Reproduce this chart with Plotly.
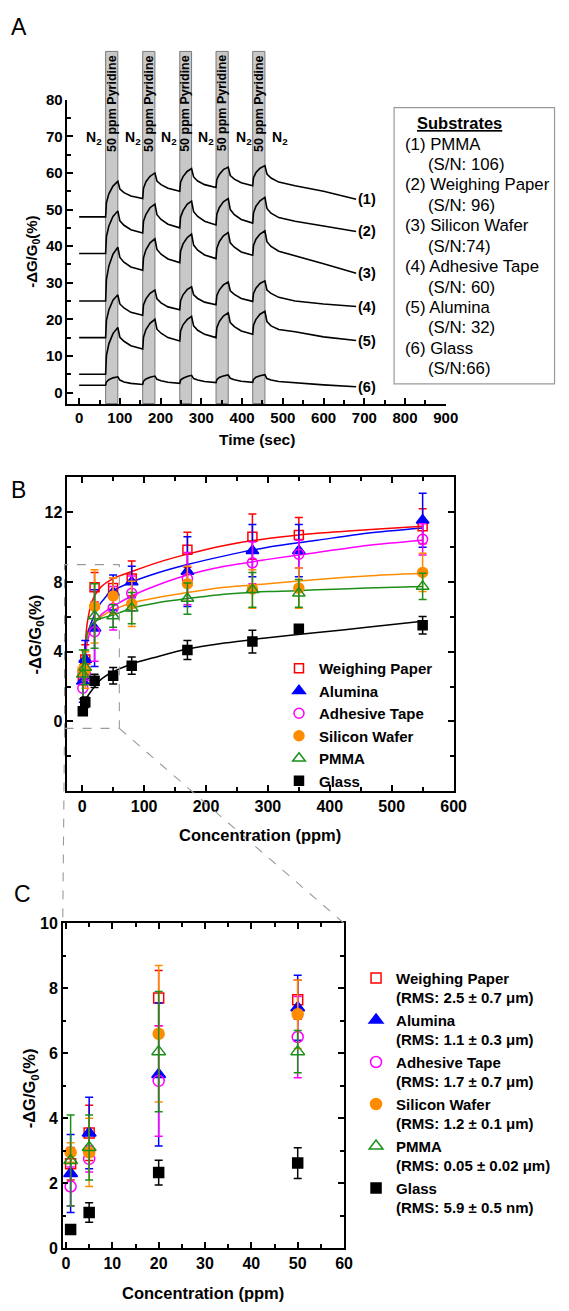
import plotly.graph_objects as go

W, H = 569, 1311
FONT = "Liberation Sans, Arial, sans-serif"

# ---------------- Panel A data ----------------
time_s = [0, 65,
          67, 73, 83, 95, 100, 110, 127, 156,
          158, 164, 174, 186, 191, 201, 218, 247,
          249, 255, 265, 276, 281, 291, 308, 336,
          338, 344, 354, 366, 371, 381, 398, 426,
          428, 434, 444, 456, 461, 471, 490, 530, 600, 680]
resp_pmma = [48.0, 48.0,
             51.9, 54.3, 56.4, 57.7, 55.6, 54.6, 53.7, 53.0,
             55.8, 57.6, 59.1, 60.0, 57.8, 56.8, 55.8, 55.0,
             57.5, 59.0, 60.4, 61.2, 58.9, 57.8, 56.8, 56.0,
             58.2, 59.6, 60.9, 61.6, 59.3, 58.3, 57.3, 56.5,
             58.7, 60.1, 61.3, 62.0, 59.7, 58.6, 57.5, 56.5, 55.0, 52.8]
resp_weighing_paper = [38.0, 38.0,
                       42.6, 45.5, 48.1, 49.6, 46.9, 45.7, 44.5, 43.6,
                       46.8, 48.7, 50.5, 51.5, 48.6, 47.3, 46.0, 45.0,
                       47.9, 49.7, 51.4, 52.3, 49.4, 48.1, 46.8, 45.8,
                       48.7, 50.5, 52.1, 53.0, 50.0, 48.6, 47.3, 46.3,
                       49.1, 50.9, 52.4, 53.3, 50.3, 49.0, 47.8, 46.8, 45.5, 44.0]
resp_silicon_wafer = [25.0, 25.0,
                      30.9, 34.6, 37.8, 39.7, 36.9, 35.6, 34.3, 33.4,
                      36.8, 39.0, 40.9, 42.0, 39.1, 37.8, 36.5, 35.5,
                      38.6, 40.6, 42.3, 43.3, 40.3, 38.9, 37.6, 36.6,
                      39.4, 41.2, 42.8, 43.7, 40.9, 39.7, 38.4, 37.5,
                      40.2, 41.9, 43.3, 44.2, 41.2, 39.9, 38.6, 37.4, 35.2, 32.6]
resp_adhesive_tape = [15.0, 15.0,
                      19.7, 22.6, 25.2, 26.7, 24.2, 23.1, 21.9, 21.1,
                      23.9, 25.6, 27.1, 28.0, 25.6, 24.5, 23.4, 22.6,
                      25.1, 26.7, 28.1, 28.9, 26.7, 25.7, 24.7, 24.0,
                      26.5, 28.0, 29.4, 30.2, 27.8, 26.8, 25.7, 24.9,
                      27.1, 28.5, 29.8, 30.5, 28.0, 27.1, 26.0, 25.0, 24.2, 23.5]
resp_alumina = [5.0, 5.0,
                10.1, 13.3, 16.1, 17.8, 15.1, 14.0, 12.8, 11.9,
                15.1, 17.2, 18.9, 20.0, 17.3, 16.2, 15.0, 14.1,
                16.8, 18.5, 19.9, 20.8, 18.2, 17.0, 15.9, 15.0,
                17.7, 19.4, 20.9, 21.8, 19.1, 18.0, 16.8, 15.9,
                18.4, 20.0, 21.4, 22.2, 19.4, 18.2, 17.2, 16.6, 15.2, 14.2]
resp_glass = [2.0, 2.0,
              2.9, 3.5, 4.0, 4.3, 3.4, 2.9, 2.5, 2.2,
              3.1, 3.7, 4.2, 4.5, 3.6, 3.2, 2.8, 2.5,
              3.4, 3.9, 4.4, 4.7, 3.8, 3.4, 3.0, 2.7,
              3.5, 4.1, 4.5, 4.8, 3.9, 3.5, 3.1, 2.8,
              3.6, 4.2, 4.6, 4.9, 3.8, 3.4, 3.0, 2.6, 2.1, 1.6]
curves_A = [resp_pmma, resp_weighing_paper, resp_silicon_wafer,
            resp_adhesive_tape, resp_alumina, resp_glass]
curve_tags = ["(1)", "(2)", "(3)", "(4)", "(5)", "(6)"]
curve_tag_y = [52.8, 44.0, 32.6, 23.5, 14.1, 1.6]
pyridine_on = [65, 156, 247, 336, 426]
pyridine_off = [95, 186, 276, 366, 456]
n2_x = [36, 132, 220, 312, 404, 492]
substrate_names = ["(1) PMMA", "(2) Weighing Paper", "(3) Silicon Wafer",
                   "(4) Adhesive Tape", "(5) Alumina", "(6) Glass"]
substrate_sn = ["(S/N: 106)", "(S/N: 96)", "(S/N:74)", "(S/N: 60)", "(S/N: 32)", "(S/N:66)"]

# ---------------- Panel B / C data ----------------
conc_ppm = [1, 5, 20, 50, 80, 170, 275, 350, 550]
series_names = ["Weighing Paper", "Alumina", "Adhesive Tape", "Silicon Wafer", "PMMA", "Glass"]
series_rms = ["(RMS: 2.5 ± 0.7 μm)", "(RMS: 1.1 ± 0.3 μm)", "(RMS: 1.7 ± 0.7 μm)",
              "(RMS: 1.2 ± 0.1 μm)", "(RMS: 0.05 ± 0.02 μm)", "(RMS: 5.9 ± 0.5 nm)"]
mean_weighing_paper = [2.6, 3.55, 7.7, 7.65, 8.2, 9.85, 10.6, 10.7, 11.2]
err_weighing_paper = [0.5, 0.85, 0.85, 0.6, 1.0, 1.0, 1.3, 1.0, 1.0]
mean_alumina = [2.3, 3.55, 5.35, 7.4, 8.0, 8.6, 9.8, 9.8, 11.55]
err_alumina = [1.2, 1.1, 2.2, 1.0, 0.9, 2.0, 1.5, 1.5, 1.55]
mean_adhesive_tape = [1.9, 2.75, 5.15, 6.5, 7.35, 8.2, 9.1, 9.6, 10.45]
err_adhesive_tape = [0.6, 0.4, 1.7, 1.25, 1.0, 1.5, 1.2, 0.8, 0.9]
mean_silicon_wafer = [2.95, 2.95, 6.6, 7.2, 6.75, 7.9, 7.6, 7.65, 8.55]
err_silicon_wafer = [0.3, 1.05, 2.1, 1.05, 1.3, 1.0, 1.1, 1.15, 1.1]
mean_pmma = [2.7, 3.1, 6.05, 6.05, 6.5, 7.05, 7.55, 7.35, 7.75]
err_pmma = [1.4, 1.0, 1.85, 0.65, 0.9, 0.9, 1.0, 0.8, 0.75]
mean_glass = [0.58, 1.1, 2.33, 2.62, 3.2, 4.1, 4.58, 5.32, 5.52]
err_glass = [0.05, 0.3, 0.38, 0.47, 0.5, 0.55, 0.65, 0.2, 0.5]
means = [mean_weighing_paper, mean_alumina, mean_adhesive_tape, mean_silicon_wafer, mean_pmma, mean_glass]
errs = [err_weighing_paper, err_alumina, err_adhesive_tape, err_silicon_wafer, err_pmma, err_glass]

fit_x = [1, 3, 8, 16, 30, 50, 80, 120, 170, 230, 300, 380, 460, 550]
fit_weighing_paper = [2.5, 3.4, 5.6, 6.9, 7.7, 8.2, 8.6, 9.1, 9.6, 10.1, 10.5, 10.8, 11.0, 11.2]
fit_alumina = [2.3, 3.1, 4.9, 5.8, 6.8, 7.5, 8.0, 8.5, 9.0, 9.5, 10.0, 10.4, 10.8, 11.1]
fit_adhesive_tape = [2.0, 2.8, 4.5, 5.4, 6.1, 6.6, 7.2, 7.8, 8.4, 8.9, 9.3, 9.7, 10.1, 10.4]
fit_silicon_wafer = [2.4, 3.4, 4.9, 5.6, 6.0, 6.4, 6.8, 7.1, 7.4, 7.7, 7.9, 8.15, 8.35, 8.5]
fit_pmma = [2.5, 3.5, 5.0, 5.6, 5.9, 6.1, 6.5, 6.8, 7.05, 7.3, 7.45, 7.55, 7.65, 7.75]
fit_glass = [0.55, 0.9, 1.4, 1.8, 2.4, 2.85, 3.3, 3.7, 4.15, 4.5, 4.8, 5.1, 5.4, 5.75]
fits = [fit_weighing_paper, fit_alumina, fit_adhesive_tape, fit_silicon_wafer, fit_pmma, fit_glass]

colors = ["#FF0000", "#0000FF", "#FF00FF", "#FF8C00", "#1A8F1A", "#000000"]
symbols = ["square-open", "triangle-up", "circle-open", "circle", "triangle-up-open", "square"]
msizes = [9, 11, 10, 10, 11, 9]

# ---------------- layout geometry (pixels) ----------------
A_X, A_Y = (68, 456), (92, 400)
B_X, B_Y = (68, 464), (475, 793)
C_X, C_Y = (63.3, 351.7), (927, 1256.5)
A_RX, A_RY = [-29, 900], [-3, 80]
B_RX, B_RY = [-24, 600], [-4, 14]
C_RX, C_RY = [-0.7, 60], [0, 10]


def px(x):
    return x / W


def py(y):
    return 1 - y / H


def dom_x(d):
    return [px(d[0]), px(d[1])]


def dom_y(d):
    return [py(d[1]), py(d[0])]


def to_paper_x(v, rng, d):
    return px(d[0] + (v - rng[0]) / (rng[1] - rng[0]) * (d[1] - d[0]))


def to_paper_y(v, rng, d):
    return py(d[1] - (v - rng[0]) / (rng[1] - rng[0]) * (d[1] - d[0]))


def axis(dom, rng, anchor, tickvals, mdtick, mirror, fsize):
    return dict(domain=dom, range=rng, anchor=anchor, showline=True, linecolor="black",
                linewidth=1.5, mirror=mirror, ticks="inside", ticklen=6, tickwidth=1.5,
                tickcolor="black", tickmode="array", tickvals=tickvals,
                minor=dict(ticks="inside", ticklen=4, tickwidth=1.5, dtick=mdtick, tick0=0,
                           tickcolor="black"),
                tickfont=dict(family=FONT, size=fsize, color="black", weight="bold"),
                showgrid=False, zeroline=False, fixedrange=True)


fig = go.Figure()

# Panel A curves
for ys in curves_A:
    fig.add_trace(go.Scatter(x=time_s, y=ys, mode="lines", xaxis="x", yaxis="y",
                             line=dict(color="black", width=1.6), showlegend=False,
                             hoverinfo="skip"))

# Panel B fits then points
for i in range(6):
    fig.add_trace(go.Scatter(x=fit_x, y=fits[i], mode="lines", xaxis="x2", yaxis="y2",
                             line=dict(color=colors[i], width=1.5, shape="spline", smoothing=0.8),
                             showlegend=False, hoverinfo="skip"))
for i in range(6):
    fig.add_trace(go.Scatter(
        x=conc_ppm, y=means[i], mode="markers", xaxis="x2", yaxis="y2", name=series_names[i],
        legend="legend",
        marker=dict(symbol=symbols[i], size=msizes[i], color=colors[i],
                    line=dict(color=colors[i], width=1.5)),
        error_y=dict(type="data", array=errs[i], color=colors[i], thickness=1.5, width=4)))

# Panel C points
for i in range(6):
    fig.add_trace(go.Scatter(
        x=conc_ppm[:4], y=means[i][:4], mode="markers", xaxis="x3", yaxis="y3",
        name=series_names[i] + "<br>" + series_rms[i], legend="legend2",
        marker=dict(symbol=symbols[i], size=msizes[i] + 1, color=colors[i],
                    line=dict(color=colors[i], width=1.5)),
        error_y=dict(type="data", array=errs[i][:4], color=colors[i], thickness=1.5, width=4)))

shapes = []
annotations = []

# Exposure bands
for s, e in zip(pyridine_on, pyridine_off):
    shapes.append(dict(type="rect", xref="x", yref="paper", x0=s, x1=e,
                       y0=py(A_Y[1]), y1=py(43), fillcolor="#C8C8C8",
                       line=dict(color="#7A7A7A", width=1), layer="below"))
    annotations.append(dict(text="50 ppm Pyridine", x=(s + e) / 2, xref="x", y=py(95.5), yref="paper",
                            textangle=-90,
                            font=dict(family=FONT, size=12.5, color="black", weight="bold")))
for xv in n2_x:
    annotations.append(dict(text="N<sub>2</sub>", x=xv, xref="x", y=69.5, yref="y",
                            font=dict(family=FONT, size=14, color="black", weight="bold")))
for tag, yv in zip(curve_tags, curve_tag_y):
    annotations.append(dict(text=tag, x=time_s[-1], xref="x", y=yv, yref="y", xanchor="left",
                            font=dict(family=FONT, size=14.5, color="black", weight="bold")))

# Substrates box
shapes.append(dict(type="rect", xref="paper", yref="paper", x0=px(403), x1=px(567.5),
                   y0=py(380), y1=py(100), line=dict(color="#9A9A9A", width=1.2)))
annotations.append(dict(text="<b><u>Substrates</u></b>", x=px(470), y=py(116),
                        font=dict(family=FONT, size=16.5, color="black")))
row_y = 137
for nm, sn in zip(substrate_names, substrate_sn):
    annotations.append(dict(text=nm, x=px(412), y=py(row_y), xanchor="left",
                            font=dict(family=FONT, size=16.8, color="black")))
    annotations.append(dict(text=sn, x=px(436), y=py(row_y + 20.7), xanchor="left",
                            font=dict(family=FONT, size=16.8, color="black")))
    row_y += 41.4

# Axis titles
ttl = dict(family=FONT, color="black", weight="bold")
annotations += [
    dict(text="-ΔG/G<sub>0</sub>(%)", x=px(32), y=py(246), textangle=-90, font=dict(size=15, **ttl)),
    dict(text="Time (sec)", x=px(262), y=py(437), font=dict(size=15.5, **ttl)),
    dict(text="-ΔG/G<sub>0</sub>(%)", x=px(36), y=py(634), textangle=-90, font=dict(size=16.5, **ttl)),
    dict(text="Concentration (ppm)", x=px(266), y=py(838), font=dict(size=16.5, **ttl)),
    dict(text="-ΔG/G<sub>0</sub>(%)", x=px(30), y=py(1094), textangle=-90, font=dict(size=16.5, **ttl)),
    dict(text="Concentration (ppm)", x=px(207), y=py(1302), font=dict(size=16.5, **ttl)),
]
for letter, (lx, ly) in zip(["A", "B", "C"], [(18, 18), (18, 488), (22, 897)]):
    annotations.append(dict(text=letter, x=px(lx), y=py(ly),
                            font=dict(family=FONT, size=23, color="black")))
for a in annotations:
    a.setdefault("xref", "paper")
    a.setdefault("yref", "paper")
    a.setdefault("xanchor", "center")
    a.setdefault("yanchor", "middle")
    a["showarrow"] = False

# Zoom-box decoration (B region shown in C)
zb_left = to_paper_x(-28.5, B_RX, B_X)
zb_right = to_paper_x(60, B_RX, B_X)
zb_top = to_paper_y(9.0, B_RY, B_Y)
zb_bot = to_paper_y(-0.4, B_RY, B_Y)
dash = dict(color="#9A9A9A", width=1.1, dash="dash")
shapes += [
    dict(type="rect", xref="paper", yref="paper", x0=zb_left, x1=zb_right, y0=zb_bot, y1=zb_top,
         line=dash),
    dict(type="line", xref="paper", yref="paper", x0=zb_left, x1=px(C_X[0]), y0=zb_bot, y1=py(C_Y[0]),
         line=dash),
    dict(type="line", xref="paper", yref="paper", x0=zb_right, x1=px(C_X[1]), y0=zb_bot, y1=py(C_Y[0]),
         line=dash),
]

fig.update_layout(
    width=W, height=H, autosize=False,
    margin=dict(l=0, r=0, t=0, b=0),
    paper_bgcolor="white", plot_bgcolor="rgba(0,0,0,0)",
    font=dict(family=FONT, color="black"),
    xaxis=axis(dom_x(A_X), A_RX, "y", list(range(0, 901, 100)), 50, False, 15),
    yaxis=axis(dom_y(A_Y), A_RY, "x", list(range(0, 81, 10)), 5, False, 15),
    xaxis2=axis(dom_x(B_X), B_RX, "y2", list(range(0, 601, 100)), 50, "ticks", 16),
    yaxis2=axis(dom_y(B_Y), B_RY, "x2", [0, 4, 8, 12], 2, "ticks", 16),
    xaxis3=axis(dom_x(C_X), C_RX, "y3", list(range(0, 61, 10)), 5, "ticks", 16),
    yaxis3=axis(dom_y(C_Y), C_RY, "x3", [0, 2, 4, 6, 8, 10], 1, "ticks", 16),
    legend=dict(x=px(285), y=py(652), xanchor="left", yanchor="top", bgcolor="rgba(0,0,0,0)",
                font=dict(family=FONT, size=15, color="black", weight="bold"), traceorder="normal"),
    legend2=dict(x=px(364), y=py(966), xanchor="left", yanchor="top", bgcolor="rgba(0,0,0,0)",
                 valign="top",
                 font=dict(family=FONT, size=15, color="black", weight="bold"), traceorder="normal"),
    shapes=shapes, annotations=annotations,
)

fig.write_html("out.html", config={"displayModeBar": False},
               post_script="document.body.style.margin='0';")
